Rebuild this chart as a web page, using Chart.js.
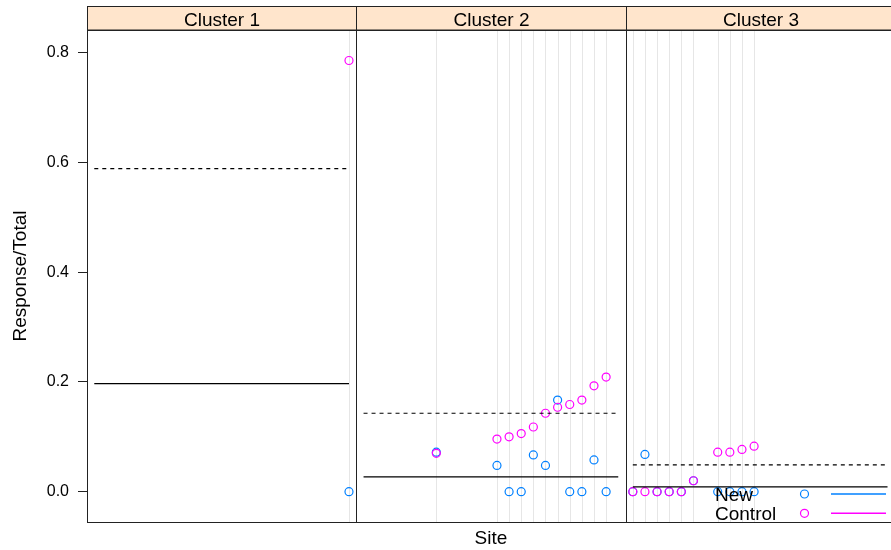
<!DOCTYPE html>
<html><head><meta charset="utf-8">
<style>
html,body{margin:0;padding:0;overflow:hidden;background:#fff;width:891px;height:550px}
#wrap{position:absolute;left:0;top:0;width:900px;height:550px}
</style>
<script src="https://cdn.jsdelivr.net/npm/chart.js@4/dist/chart.umd.min.js"></script>
</head><body><div id="wrap"><canvas id="c" width="900" height="550" style="width:900px;height:550px"></canvas></div>
<script>
// ---- data ----
const clusterNames = ['Cluster 1', 'Cluster 2', 'Cluster 3'];
const sites = [1,2,3,4,5,6,7,8,9,10,11,12,13,14,15,16,17,18,19,20,21,22];
const siteCluster = [3,3,3,3,3,3,2,3,3,3,3,2,2,2,2,2,2,2,2,2,2,1];
const newValues = [0,0.068,0,0,0,0.02,0.072,0,0,0,0,0.048,0,0,0.067,0.048,0.167,0,0,0.058,0,0];
const controlValues = [0,0,0,0,0,0.02,0.07,0.072,0.072,0.077,0.083,0.096,0.100,0.106,0.118,0.143,0.154,0.159,0.167,0.193,0.209,0.786];
const solidMeans = [0.197, 0.027, 0.009];
const dashedMeans = [0.589, 0.143, 0.049];
const yTicks = [0, 0.2, 0.4, 0.6, 0.8];
const seriesNames = ['New', 'Control'];
const xTitle = 'Site';
const yTitle = 'Response/Total';

// ---- layout helpers ----
const X_LO = 0.4, X_HI = sites.length + 0.6, SPAN = X_HI - X_LO;
const BLUE = '#0080ff', MAGENTA = '#ff00ff';
const FONT = '"Liberation Sans", Arial, Helvetica, sans-serif';
const panelOf = i => siteCluster[i] - 1;
const xOf = i => panelOf(i) * SPAN + sites[i] - X_LO;

function pts(vals){ return sites.map((s,i)=>({x:xOf(i), y:vals[i]})); }
function meanLine(means){
  const d=[];
  means.forEach((m,p)=>{
    d.push({x:p*SPAN + sites[0] - X_LO, y:m});
    d.push({x:p*SPAN + sites[sites.length-1] - X_LO, y:m});
    d.push({x:p*SPAN + sites[sites.length-1] - X_LO + 0.05, y:null});
  });
  return d;
}

const panelPlugin = {
  id:'panels',
  beforeDatasetsDraw(chart){
    const {ctx, chartArea:a, scales:{x}} = chart;
    ctx.save();
    ctx.strokeStyle = '#e6e6e6'; ctx.lineWidth = 1;
    sites.forEach((s,i)=>{
      const px = Math.round(x.getPixelForValue(xOf(i))) + 0.5;
      ctx.beginPath(); ctx.moveTo(px, a.top); ctx.lineTo(px, a.bottom); ctx.stroke();
    });
    ctx.restore();
  },
  afterDatasetsDraw(chart){
    const {ctx, chartArea:a, scales:{x}} = chart;
    ctx.save();
    clusterNames.forEach((name,p)=>{
      const l = Math.round(x.getPixelForValue(p*SPAN)) + 0.5;
      const r = Math.round(x.getPixelForValue((p+1)*SPAN)) + 0.5;
      // strip
      ctx.fillStyle = '#ffe5cc';
      ctx.fillRect(l, 6.5, r-l, a.top - 6.5);
      ctx.strokeStyle = '#222'; ctx.lineWidth = 1;
      ctx.strokeRect(l, 6.5, r-l, a.top - 6.5);
      ctx.fillStyle = '#000';
      ctx.font = '19px ' + FONT;
      ctx.textAlign = 'center'; ctx.textBaseline = 'alphabetic';
      ctx.fillText(name, (l+r)/2, 26);
      // panel box
      ctx.strokeRect(l, Math.round(a.top)+0.5, r-l, Math.round(a.bottom - a.top));
    });
    // legend
    const rows = [[seriesNames[0], BLUE, 494, 500.5],[seriesNames[1], MAGENTA, 513.3, 519.5]];
    ctx.font = '19px ' + FONT;
    ctx.textAlign = 'left'; ctx.textBaseline = 'alphabetic';
    rows.forEach(([t,c,yc,yb])=>{
      ctx.fillStyle = '#000';
      ctx.fillText(t, 715, yb);
      ctx.strokeStyle = c; ctx.lineWidth = 1.2;
      ctx.beginPath(); ctx.arc(804.5, yc, 4, 0, Math.PI*2); ctx.stroke();
      ctx.lineWidth = 1.4;
      ctx.beginPath(); ctx.moveTo(831, yc); ctx.lineTo(886, yc); ctx.stroke();
    });
    ctx.restore();
  }
};

new Chart(document.getElementById('c'), {
  type:'scatter',
  data:{datasets:[
    {type:'line', data:meanLine(solidMeans), borderColor:'#000', borderWidth:1.2, pointRadius:0, spanGaps:false, fill:false},
    {type:'line', data:meanLine(dashedMeans), borderColor:'#000', borderWidth:1.2, borderDash:[4,4], pointRadius:0, spanGaps:false, fill:false},
    {label:seriesNames[1], data:pts(controlValues), borderColor:MAGENTA, backgroundColor:'rgba(0,0,0,0)', pointRadius:4, pointBorderWidth:1.2, pointHoverRadius:4},
    {label:seriesNames[0], data:pts(newValues), borderColor:BLUE, backgroundColor:'rgba(0,0,0,0)', pointRadius:4, pointBorderWidth:1.2, pointHoverRadius:4}
  ]},
  options:{
    responsive:false, animation:false, devicePixelRatio:1,
    layout:{padding:{left:0,right:4,top:30,bottom:0}},
    plugins:{legend:{display:false}, tooltip:{enabled:false}},
    scales:{
      x:{type:'linear', min:0, max:3*SPAN,
        ticks:{display:false}, grid:{display:false}, border:{display:false},
        title:{display:true, text:xTitle, color:'#000', font:{family:FONT, size:19}, padding:{top:0,bottom:0}},
        afterFit(s){ s.height = 28; }
      },
      y:{type:'linear', min:-0.0552, max:0.8416,
        afterBuildTicks(s){ s.ticks = yTicks.map(v=>({value:v})); },
        ticks:{color:'#000', padding:9, font:{family:FONT, size:16}, callback:v=>v.toFixed(1)},
        grid:{drawOnChartArea:false, drawTicks:true, tickLength:9, color:'#222', lineWidth:1},
        border:{display:false},
        title:{display:true, text:yTitle, color:'#000', font:{family:FONT, size:19}, padding:{top:9,bottom:0}},
        afterFit(s){ s.width = 87; }
      }
    }
  },
  plugins:[panelPlugin]
});
</script></body></html>
